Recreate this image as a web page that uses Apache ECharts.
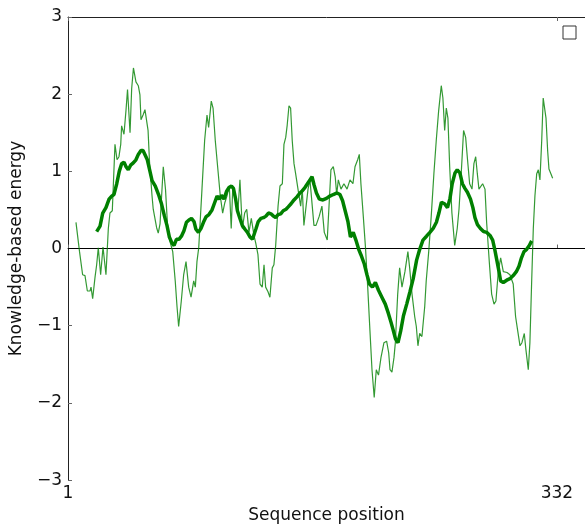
<!DOCTYPE html>
<html>
<head>
<meta charset="utf-8">
<script src="https://cdn.jsdelivr.net/npm/echarts@6/dist/echarts.min.js"></script>
<style>
  html, body { margin: 0; padding: 0; background: #fff; overflow: hidden; }
  #chart { width: 585px; height: 529px; }
</style>
</head>
<body>
<div id="chart"></div>
<script>
// window-averaged energy, short window (thin line)
const thinPos = [6.4, 7.4, 8.8, 10.9, 12.5, 14.1, 15.9, 16.6, 17.7, 19.3, 20.4, 21.5, 23.1, 24.7, 25.6, 26.7, 28.3, 29.4, 31.0, 32.8,
  34.2, 35.5, 36.7, 37.3, 38.9, 40.3, 41.3, 43.0, 44.1, 45.3, 47.0, 48.6, 49.7, 50.4, 51.8, 53.1, 54.1, 55.2, 56.2, 57.9,
  58.7, 61.0, 62.1, 63.3, 65.5, 67.0, 68.5, 70.2, 71.9, 73.6, 74.8, 75.9, 77.7, 79.3, 80.9, 82.7, 84.3, 86.1, 87.2, 88.3,
  89.5, 91.7, 93.5, 95.1, 96.2, 98.0, 99.2, 100.7, 102.3, 104.1, 105.7, 107.1, 108.6, 110.2, 111.5, 112.5, 113.4, 116.1, 117.4, 119.0,
  120.6, 122.0, 123.5, 125.1, 126.9, 128.1, 129.6, 131.0, 132.5, 133.7, 134.8, 136.4, 137.7, 139.3, 140.4, 141.6, 143.2, 144.5, 146.1, 147.2,
  148.4, 149.4, 150.6, 151.7, 152.8, 154.0, 155.1, 156.7, 158.5, 159.6, 160.7, 163.5, 164.8, 167.5, 168.9, 171.1, 172.9, 174.5, 176.5, 179.0,
  180.6, 181.9, 182.9, 184.0, 185.8, 187.8, 189.9, 191.9, 193.9, 195.3, 197.1, 198.2, 199.3, 200.9, 202.4, 203.9, 205.4, 206.8, 208.3, 209.7,
  211.2, 212.9, 214.9, 216.7, 218.1, 219.0, 220.3, 221.7, 222.6, 224.2, 225.5, 227.1, 229.1, 231.1, 232.3, 233.9, 235.7, 236.8, 237.9, 239.1,
  240.6, 242.5, 243.5, 245.2, 246.9, 248.7, 250.3, 251.9, 253.7, 254.8, 256.0, 257.1, 258.2, 259.4, 260.9, 262.8, 264.5, 265.7, 267.2, 268.8,
  270.2, 271.3, 272.9, 274.5, 275.8, 277.0, 278.1, 279.2, 281.7, 283.3, 284.4, 286.2, 287.8, 289.4, 290.7, 292.3, 293.9, 295.7, 298.2, 300.2,
  302.4, 304.0, 305.4, 307.0, 308.3, 309.9, 311.0, 312.6, 313.7, 314.9, 316.0, 317.1, 318.3, 319.4, 320.5, 321.7, 322.7, 324.6, 325.7, 326.6,
  327.9, 329.1];
const thinEnergy = [0.34, 0.32, -0.04, -0.34, -0.35, -0.55, -0.55, -0.50, -0.65, -0.37, -0.21, 0.01, -0.34, 0.02, 0.04, -0.34, 0.26, 0.46, 0.49, 1.35,
  1.15, 1.19, 1.35, 1.59, 1.48, 1.80, 2.06, 1.50, 2.07, 2.34, 2.16, 2.11, 1.99, 1.67, 1.73, 1.80, 1.82, 1.53, 1.12, 0.68,
  0.51, 0.27, 0.20, 0.32, 1.06, 0.77, 0.26, 0.08, -0.04, -0.42, -0.75, -1.01, -0.68, -0.34, -0.17, -0.50, -0.63, -0.42, -0.50, -0.17,
  0.01, 0.77, 1.40, 1.73, 1.57, 1.91, 1.82, 1.40, 1.06, 0.68, 0.46, 0.59, 0.68, 0.81, 0.26, 0.77, 0.77, 0.51, 0.89, 0.26,
  0.46, 0.51, 0.21, 0.39, 0.17, 0.07, -0.08, -0.46, -0.50, -0.21, -0.50, -0.56, -0.63, -0.25, -0.21, 0.04, 0.55, 0.81, 0.84, 1.35,
  1.44, 1.60, 1.85, 1.82, 1.40, 1.10, 0.97, 0.77, 0.55, 0.77, 0.30, 0.77, 0.89, 0.30, 0.30, 0.42, 0.55, 0.21, 0.11, 1.02,
  1.06, 0.93, 0.70, 0.89, 0.77, 0.84, 0.77, 0.89, 0.84, 1.06, 1.15, 1.22, 0.84, 0.42, 0.01, -0.50, -1.06, -1.57, -1.93, -1.57,
  -1.64, -1.41, -1.22, -1.20, -1.35, -1.57, -1.60, -1.41, -1.22, -0.59, -0.25, -0.50, -0.30, -0.04, -0.25, -0.59, -0.88, -1.01, -1.26, -1.10,
  -1.14, -0.75, -0.42, -0.04, 0.42, 0.97, 1.40, 1.78, 2.11, 1.95, 1.53, 1.82, 1.69, 1.06, 0.46, 0.04, 0.26, 0.51, 0.97, 1.53,
  1.44, 1.19, 0.84, 0.77, 1.10, 1.19, 0.97, 0.77, 0.84, 0.77, 0.34, -0.17, -0.59, -0.72, -0.68, -0.30, -0.12, -0.30, -0.31, -0.34,
  -0.46, -0.88, -1.06, -1.26, -1.22, -1.10, -1.31, -1.57, -1.22, -0.42, 0.26, 0.68, 0.97, 1.02, 0.89, 1.40, 1.95, 1.69, 1.27, 1.03,
  0.97, 0.91];

// window-averaged energy, long window (thick line)
const thickPos = [20.4, 22.7, 24.5, 26.7, 28.8, 30.6, 32.1, 34.0, 35.7, 37.3, 38.9, 40.3, 41.8, 43.4, 45.2, 47.0, 48.6, 50.4, 51.8, 53.1,
  54.7, 56.5, 57.9, 60.1, 62.3, 64.3, 66.3, 68.0, 69.6, 71.4, 72.8, 74.4, 76.1, 77.8, 79.5, 81.2, 82.9, 84.6, 86.3, 87.6,
  89.3, 91.0, 92.7, 94.4, 96.4, 98.5, 100.2, 101.9, 103.4, 104.9, 106.6, 108.3, 110.0, 111.7, 113.0, 114.5, 115.7, 117.4, 119.0, 120.8,
  122.5, 124.2, 125.9, 127.2, 128.3, 129.8, 131.6, 133.3, 135.0, 136.7, 138.4, 140.1, 141.6, 143.2, 145.0, 146.7, 148.6, 150.1, 152.0, 154.0,
  156.0, 158.0, 159.7, 161.4, 163.1, 164.8, 166.2, 167.5, 169.2, 171.2, 173.6, 176.0, 178.3, 180.6, 183.1, 185.1, 186.9, 188.5, 190.5, 192.2,
  194.1, 195.9, 197.8, 199.3, 201.6, 203.4, 205.1, 207.1, 209.1, 211.2, 213.5, 215.8, 217.9, 219.6, 221.2, 222.7, 224.4, 226.2, 228.1, 230.3,
  232.5, 234.7, 237.0, 239.1, 241.3, 243.7, 246.0, 248.2, 250.4, 252.1, 253.8, 255.9, 257.9, 259.6, 261.1, 263.0, 264.5, 266.3, 268.0, 269.7,
  271.4, 273.5, 275.1, 276.5, 278.2, 280.2, 282.3, 284.4, 286.7, 288.5, 290.0, 291.4, 292.7, 293.9, 295.7, 298.0, 300.2, 302.4, 304.5, 306.3,
  308.0, 309.7, 311.5, 313.3, 314.9];
const thickEnergy = [0.22, 0.29, 0.46, 0.53, 0.64, 0.68, 0.70, 0.84, 1.00, 1.10, 1.12, 1.06, 1.02, 1.08, 1.11, 1.15, 1.22, 1.27, 1.27, 1.25,
  1.15, 1.00, 0.88, 0.81, 0.70, 0.58, 0.42, 0.30, 0.15, 0.07, 0.04, 0.12, 0.12, 0.16, 0.23, 0.34, 0.37, 0.39, 0.35, 0.25,
  0.21, 0.26, 0.34, 0.41, 0.44, 0.50, 0.59, 0.68, 0.64, 0.69, 0.64, 0.74, 0.79, 0.81, 0.78, 0.64, 0.49, 0.39, 0.30, 0.25,
  0.21, 0.15, 0.12, 0.10, 0.26, 0.35, 0.39, 0.40, 0.42, 0.46, 0.45, 0.42, 0.40, 0.44, 0.45, 0.49, 0.51, 0.54, 0.58, 0.63,
  0.67, 0.72, 0.75, 0.79, 0.84, 0.89, 0.93, 0.83, 0.72, 0.64, 0.63, 0.65, 0.68, 0.70, 0.72, 0.70, 0.62, 0.50, 0.35, 0.15,
  0.21, 0.11, -0.01, -0.08, -0.20, -0.34, -0.46, -0.50, -0.44, -0.54, -0.63, -0.72, -0.84, -0.95, -1.06, -1.17, -1.22, -1.07, -0.87, -0.72,
  -0.56, -0.39, -0.15, -0.01, 0.11, 0.16, 0.21, 0.26, 0.34, 0.46, 0.60, 0.58, 0.53, 0.65, 0.84, 0.98, 1.02, 0.98, 0.84, 0.78,
  0.73, 0.64, 0.53, 0.40, 0.31, 0.26, 0.22, 0.21, 0.17, 0.11, -0.02, -0.16, -0.29, -0.42, -0.44, -0.41, -0.39, -0.35, -0.30, -0.23,
  -0.12, -0.04, -0.01, 0.04, 0.10];

const xTicks = [1, 332];

const pairs = (xs, ys) => xs.map((x, i) => [x, ys[i]]);

const chart = echarts.init(document.getElementById("chart"));

const font = "DejaVu Sans";
const axisColor = "#222";

const option = {
  animation: false,
  textStyle: { fontFamily: font },
  grid: { left: 68, top: 17, right: 0, bottom: 39, containLabel: false },
  xAxis: [
    {
      type: "value",
      position: "bottom",
      min: 1,
      max: 351,
      name: "Sequence position",
      nameLocation: "middle",
      nameGap: 20,
      nameTextStyle: { fontSize: 17, color: "#111", fontFamily: font },
      axisLine: { show: true, lineStyle: { color: axisColor, width: 1 } },
      axisTick: { show: true, inside: true, length: 4, customValues: xTicks, lineStyle: { color: "#666" } },
      axisLabel: { show: true, customValues: xTicks, fontSize: 17, color: "#111", margin: 5, fontFamily: font },
      splitLine: { show: false },
    },
    {
      type: "value",
      position: "top",
      min: 1,
      max: 351,
      axisLine: { show: true, lineStyle: { color: axisColor, width: 1 } },
      axisTick: { show: true, inside: true, length: 4, customValues: xTicks, lineStyle: { color: "#666" } },
      axisLabel: { show: false },
      splitLine: { show: false },
    },
  ],
  yAxis: {
    type: "value",
    min: -3,
    max: 3,
    interval: 1,
    name: "Knowledge-based energy",
    nameLocation: "middle",
    nameGap: 43,
    nameTextStyle: { fontSize: 17, color: "#111", fontFamily: font },
    axisLine: { show: true, lineStyle: { color: axisColor, width: 1 } },
    axisTick: { show: true, inside: true, length: 4, lineStyle: { color: "#666" } },
    axisLabel: {
      fontSize: 17,
      color: "#111",
      margin: 6,
      fontFamily: font,
      formatter: (v) => String(v).replace("-", "\u2212"),
    },
    splitLine: { show: false },
  },
  series: [
    {
      name: "window short",
      type: "line",
      data: pairs(thinPos, thinEnergy),
      symbol: "none",
      lineStyle: { color: "rgba(0,128,0,0.8)", width: 1.2 },
      z: 2,
      markLine: {
        silent: true,
        symbol: "none",
        label: { show: false },
        lineStyle: { color: "#000", width: 1, type: "solid" },
        data: [{ yAxis: 0 }],
        z: 1,
      },
    },
    {
      name: "window long",
      type: "line",
      data: pairs(thickPos, thickEnergy),
      symbol: "none",
      lineStyle: { color: "#008000", width: 3.5 },
      z: 3,
    },
  ],
  graphic: [
    {
      type: "rect",
      shape: { x: 563, y: 26, width: 13, height: 13 },
      style: { fill: "#fff", stroke: "#333", lineWidth: 1 },
    },
  ],
};

chart.setOption(option);
</script>
</body>
</html>
